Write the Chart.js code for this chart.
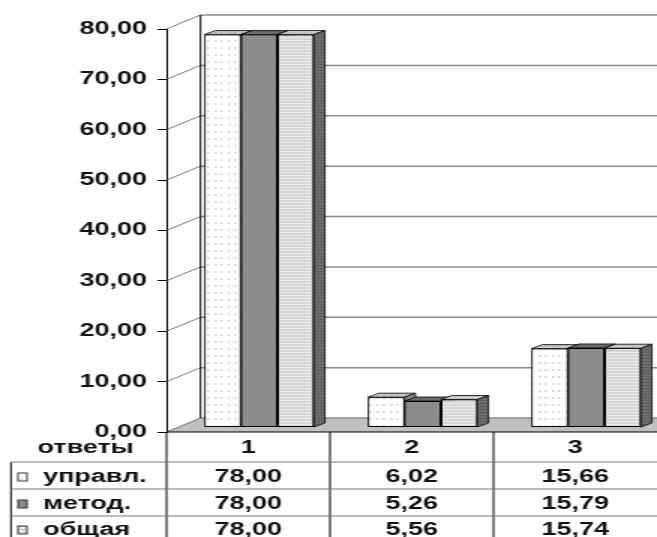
<!DOCTYPE html>
<html>
<head>
<meta charset="utf-8">
<script src="https://cdn.jsdelivr.net/npm/chart.js@4"></script>
<style>
  html, body { margin: 0; padding: 0; background: #fff; overflow: hidden; }
  #chart { display: block; }
</style>
</head>
<body>
<!-- the picture is stretched sideways, so the canvas is drawn narrow and widened by its style -->
<canvas id="chart" width="438" height="537" style="width:657px;height:537px"></canvas>
<script>
const categories = ['1', '2', '3'];
const seriesNames = ['управл.', 'метод.', 'общая'];
const upravl = [78.00, 6.02, 15.66];
const metod = [78.00, 5.26, 15.79];
const obshaya = [78.00, 5.56, 15.74];
const yMax = 80;
const yStep = 10;
const headerLabel = 'ответы';

const FONT = '"Liberation Sans", Arial, sans-serif';
const W = 438, H = 537;
const WALL_DX = 22.7, WALL_DY = 14;   // back wall offset
const BAR_DX = 7.3, BAR_DY = 4.5;     // bars sit a bit behind the front
const FACE_DX = 7.3, FACE_DY = 4;     // bar depth
const ROW_LINES = [462, 489, 516];
const ROW_TEXT = [477, 504, 530];
const TABLE_LEFT = 7.3;

const fmt = v => v.toFixed(2).replace('.', ',');

const ctx = document.getElementById('chart').getContext('2d');

function pattern(w, h, bg, dot, dots) {
    const c = document.createElement('canvas');
    c.width = w;
    c.height = h;
    const g = c.getContext('2d');
    g.fillStyle = bg;
    g.fillRect(0, 0, w, h);
    g.fillStyle = dot;
    dots.forEach(([x, y]) => g.fillRect(x, y, 1, 1));
    return ctx.createPattern(c, 'repeat');
}

const sparse = pattern(9, 7, '#ffffff', '#8a8a8a', [[1, 3], [5, 3]]);
const sparseTop = pattern(9, 4, '#c6c6c6', '#8a8a8a', [[1, 1], [5, 1]]);
const dense = pattern(2, 3, '#ececec', '#9a9a9a', [[0, 1]]);
const denseTop = pattern(2, 3, '#d4d4d4', '#8e8e8e', [[0, 1]]);
const denseSide = pattern(2, 3, '#5c5c5c', '#a0a0a0', [[0, 1]]);

const faces = [
    { top: sparseTop, side: '#8a8a8a' },
    { top: '#6c6c6c', side: '#5a5a5a' },
    { top: denseTop, side: denseSide },
];

function line(c, x1, y1, x2, y2) {
    c.beginPath();
    c.moveTo(x1, y1);
    c.lineTo(x2, y2);
    c.stroke();
}

const box3d = {
    id: 'box3d',
    beforeDatasetsDraw(chart) {
        const { ctx: c, chartArea: a, scales: { y } } = chart;
        const y0 = y.getPixelForValue(0);
        c.save();
        // floor
        c.fillStyle = '#c0c0c0';
        c.beginPath();
        c.moveTo(a.left, y0);
        c.lineTo(W, y0);
        c.lineTo(W, y0 - WALL_DY);
        c.lineTo(a.left + WALL_DX, y0 - WALL_DY);
        c.closePath();
        c.fill();
        // back wall grid and left wall diagonals
        y.ticks.forEach(t => {
            const py = y.getPixelForValue(t.value);
            c.strokeStyle = '#8c8c8c';
            c.lineWidth = 1.5;
            line(c, a.left + WALL_DX, py - WALL_DY, W, py - WALL_DY);
            c.strokeStyle = '#555';
            c.lineWidth = 0.8;
            line(c, a.left, py, a.left + WALL_DX, py - WALL_DY);
        });
        c.strokeStyle = '#000';
        c.lineWidth = 1;
        line(c, a.left + WALL_DX, y.getPixelForValue(yMax) - WALL_DY, a.left + WALL_DX, y0 - WALL_DY);
        line(c, a.left, y0, W, y0);
        c.restore();
        c.save();
        c.translate(BAR_DX, -BAR_DY);
    },
    afterDatasetsDraw(chart) {
        const c = chart.ctx;
        const n = chart.data.datasets.length;
        chart.data.labels.forEach((_, i) => {
            for (let k = 0; k < n; k++) {
                const el = chart.getDatasetMeta(k).data[i];
                el.draw(c);
                const x1 = el.x - el.width / 2, x2 = el.x + el.width / 2;
                const top = el.y, bot = el.base;
                c.save();
                c.strokeStyle = '#000';
                c.lineWidth = 0.8;
                c.fillStyle = faces[k].top;
                c.beginPath();
                c.moveTo(x1, top);
                c.lineTo(x1 + FACE_DX, top - FACE_DY);
                c.lineTo(x2 + FACE_DX, top - FACE_DY);
                c.lineTo(x2, top);
                c.closePath();
                c.fill();
                c.stroke();
                c.fillStyle = faces[k].side;
                c.beginPath();
                c.moveTo(x2, top);
                c.lineTo(x2 + FACE_DX, top - FACE_DY);
                c.lineTo(x2 + FACE_DX, bot - FACE_DY);
                c.lineTo(x2, bot);
                c.closePath();
                c.fill();
                c.stroke();
                c.restore();
            }
        });
        c.restore();
    },
    afterDraw(chart) {
        const { ctx: c, chartArea: a, scales: { x, y } } = chart;
        const y0 = y.getPixelForValue(0);
        const sets = chart.data.datasets;
        c.save();
        c.font = 'bold 18px ' + FONT;
        c.fillStyle = '#111';
        c.textBaseline = 'middle';
        c.textAlign = 'center';
        c.fillText(headerLabel, (TABLE_LEFT + a.left) / 2 - 2, 448);
        // grid of the table
        c.strokeStyle = '#000';
        c.lineWidth = 1;
        line(c, a.left, y0, a.left, H);
        for (let i = 0; i < categories.length - 1; i++) {
            const bx = (x.getPixelForValue(i) + x.getPixelForValue(i + 1)) / 2;
            line(c, bx, y0, bx, H);
        }
        line(c, TABLE_LEFT, ROW_LINES[0], TABLE_LEFT, H);
        c.strokeStyle = '#777';
        ROW_LINES.forEach(ly => line(c, TABLE_LEFT, ly, W, ly));
        // rows
        sets.forEach((ds, k) => {
            const ty = ROW_TEXT[k];
            c.fillStyle = ds.backgroundColor;
            c.fillRect(12, ty - 4, 6, 8);
            c.strokeStyle = '#333';
            c.strokeRect(12, ty - 4, 6, 8);
            c.fillStyle = '#111';
            c.textAlign = 'left';
            c.fillText(ds.label, 28.7, ty);
            c.textAlign = 'center';
            ds.data.forEach((v, i) => c.fillText(fmt(v), x.getPixelForValue(i), ty));
        });
        c.restore();
    },
};

const barStyle = { borderColor: '#000', borderWidth: 1, borderSkipped: false, clip: false };

new Chart(ctx, {
    type: 'bar',
    data: {
        labels: categories,
        datasets: [
            { label: seriesNames[0], data: upravl, backgroundColor: sparse, ...barStyle },
            { label: seriesNames[1], data: metod, backgroundColor: '#8c8c8c', ...barStyle },
            { label: seriesNames[2], data: obshaya, backgroundColor: dense, ...barStyle },
        ],
    },
    options: {
        responsive: false,
        animation: false,
        categoryPercentage: 0.67,
        barPercentage: 1,
        layout: { padding: { top: 29, right: 0, bottom: 0, left: 0 } },
        plugins: { legend: { display: false }, tooltip: { enabled: false } },
        scales: {
            x: {
                grid: { display: false, drawTicks: false },
                border: { display: false },
                ticks: { color: '#111', padding: 5, font: { family: FONT, size: 18, weight: 'bold' } },
                afterFit: s => { s.height = H - 432; },
            },
            y: {
                min: 0,
                max: yMax,
                ticks: {
                    stepSize: yStep,
                    padding: 7,
                    color: '#111',
                    font: { family: FONT, size: 18, weight: 'bold' },
                    callback: v => fmt(v),
                },
                grid: { drawOnChartArea: false, tickLength: 6, color: '#000' },
                border: { display: true, color: '#000', width: 1 },
                afterFit: s => { s.width = 111; },
            },
        },
    },
    plugins: [box3d],
});
</script>
</body>
</html>
